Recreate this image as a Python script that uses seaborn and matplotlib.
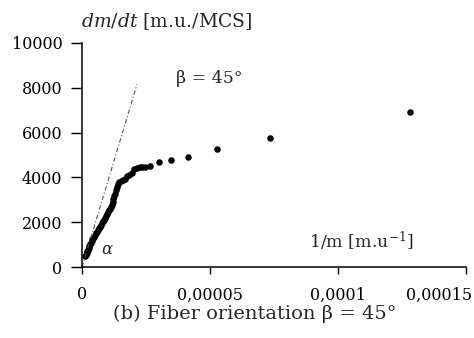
import matplotlib
matplotlib.use("Agg")
import matplotlib.pyplot as plt
import matplotlib.transforms as mtransforms
import seaborn as sns
import pandas as pd

# data (1/m in units of 1e-5)
inv_m_e5 = [0.12, 0.15, 0.18, 0.20, 0.23, 0.26, 0.29, 0.32, 0.35, 0.38,
            0.41, 0.44, 0.47, 0.50, 0.54, 0.58, 0.62, 0.66, 0.70, 0.74,
            0.78, 0.82, 0.86, 0.90, 0.94, 0.98, 1.02, 1.06, 1.10, 1.14,
            1.18, 1.21, 1.23, 1.26, 1.29, 1.32, 1.36, 1.40, 1.45, 1.52,
            1.60, 1.68, 1.76, 1.85, 1.95, 2.05, 2.15, 2.25, 2.35, 2.45,
            2.67, 3.02, 3.49, 4.15, 5.27, 7.33, 12.83]
dm_dt = [480, 540, 620, 700, 760, 850, 940, 1020, 1080, 1160,
         1240, 1300, 1360, 1420, 1500, 1580, 1650, 1730, 1800, 1880,
         1960, 2040, 2120, 2200, 2280, 2370, 2450, 2530, 2600, 2660,
         2750, 2900, 3050, 3150, 3250, 3420, 3550, 3700, 3780, 3820,
         3870, 3950, 4050, 4120, 4200, 4380, 4430, 4450, 4460, 4470,
         4510, 4690, 4780, 4910, 5270, 5760, 6920]

# initial slope line (alpha)
slope_x = [0.0, 2.15e-5]
slope_y = [0, 8150]

xticks = [0, 0.00005, 0.0001, 0.00015]
xtick_labels = ["0", "0,00005", "0,0001", "0,00015"]
yticks = [0, 2000, 4000, 6000, 8000, 10000]

df = pd.DataFrame({"inv_m": [v * 1e-5 for v in inv_m_e5], "dmdt": dm_dt})

sns.set_style("ticks")
plt.rcParams["font.family"] = ["DejaVu Serif"]
plt.rcParams["mathtext.fontset"] = "dejavuserif"

fig = plt.figure(figsize=(4.74, 3.38), dpi=100)
ax = fig.add_axes([0.173, 0.21, 0.81, 0.663])

sns.lineplot(x=slope_x, y=slope_y, ax=ax, color="#555555", lw=0.8,
             linestyle=(0, (4, 2, 1, 2)))
sns.scatterplot(data=df, x="inv_m", y="dmdt", ax=ax, color="black",
                s=22, linewidth=0)

ax.set_xlim(0, 0.00015)
ax.set_ylim(0, 10000)
ax.set_xticks(xticks)
ax.set_xticklabels(xtick_labels)
ax.set_yticks(yticks)
ax.set_xlabel("")
ax.set_ylabel("")
sns.despine(ax=ax)
for sp in ["left", "bottom"]:
    ax.spines[sp].set_linewidth(1.1)
    ax.spines[sp].set_color("black")
ax.tick_params(axis="y", length=8, width=1, labelsize=11.5, pad=6, colors="black")
ax.tick_params(axis="x", length=5, width=1, labelsize=11.5, pad=9, colors="black")

# last x label sits flush with the right edge, like the original
last = ax.get_xticklabels()[-1]
last.set_horizontalalignment("right")
last.set_transform(last.get_transform() +
                   mtransforms.ScaledTranslation(6 / 100, 0, fig.dpi_scale_trans))

ax.text(1.0e-5, 760, r"$\alpha$", fontsize=12, ha="center", va="center")
ax.text(0.0000498, 8400, "β = 45°", fontsize=12.5, ha="center", va="center")
ax.text(0.0001093, 1160, r"1/m [m.u$^{-1}$]", fontsize=12.5, ha="center", va="center")

fig.text(81 / 474, 1 - 22 / 338, r"$dm/dt$ [m.u./MCS]", fontsize=13.5,
         ha="left", va="center")
fig.text(255 / 474, 1 - 314 / 338, "(b) Fiber orientation β = 45°",
         fontsize=14, ha="center", va="center")

fig.savefig("out.png", dpi=100)
